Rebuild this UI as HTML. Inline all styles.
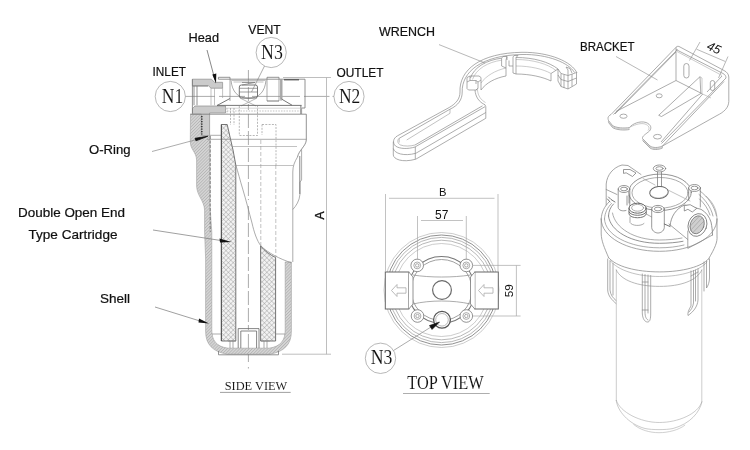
<!DOCTYPE html>
<html><head><meta charset="utf-8">
<style>
html,body{margin:0;padding:0;background:#fff;}
body{width:750px;height:450px;overflow:hidden;font-family:"Liberation Sans",sans-serif;}
svg{display:block;filter:grayscale(1)}
.l{font-family:"Liberation Sans",sans-serif;fill:#111;}
.s{font-family:"Liberation Serif",serif;fill:#111;}
</style></head><body>
<svg width="750" height="450" viewBox="0 0 750 450">
<defs>
<pattern id="hat" width="2.2" height="2.2" patternUnits="userSpaceOnUse" patternTransform="rotate(-45)"><rect width="2.2" height="2.2" fill="#d4d4d4"/><line x1="0" y1="0" x2="2.2" y2="0" stroke="#a2a2a2" stroke-width="0.9"/></pattern>
<pattern id="xhat" width="3.4" height="3.4" patternUnits="userSpaceOnUse" patternTransform="rotate(45)"><rect width="3.4" height="3.4" fill="#f2f2f2"/><path d="M0 0H3.4M0 0V3.4" stroke="#8c8c8c" stroke-width="0.7"/></pattern>
</defs>
<rect width="750" height="450" fill="#fff"/>
<g id="side" fill="none" stroke="#777" stroke-width="0.8" stroke-linecap="butt">
<!-- centerlines -->
<path d="M248.4 70V110M248.4 114V200M248.4 206V330" stroke="#888" stroke-width="0.7" stroke-dasharray="14 3"/><path d="M248.4 334V362M248.4 367V368.5" stroke="#888" stroke-width="0.7"/>
<path d="M185 96.4H215M219 96.4H245M252 96.4H300M304 96.4H329.5M332.5 96.4H334" stroke="#888" stroke-width="0.7"/>
<!-- label circles -->
<circle cx="170.3" cy="96.5" r="15.1" stroke="#999" stroke-width="0.7" fill="#fff"/>
<circle cx="349" cy="96.5" r="15.1" stroke="#999" stroke-width="0.7" fill="#fff"/>
<circle cx="271.2" cy="52.5" r="15.1" stroke="#999" stroke-width="0.7" fill="#fff"/>
<!-- N3 leader -->
<path d="M264.5 66L251.5 92" stroke="#888" stroke-width="0.7"/>
<!-- dimension A -->
<path d="M283 77.5H331M282 354.2H331M326.5 77.5V354.2" stroke="#adadad" stroke-width="0.8"/>
<!-- HEAD gray section top -->
<path d="M192.4 79.2H211.5L214.5 82.3H222.6V88.2H211L208.5 85.8H192.4Z" fill="#cbcbcb" stroke="#8c8c8c" stroke-width="0.7"/>
<!-- HEAD gray lower section -->
<path d="M192.5 108.5L195 106H225.5V113H209.6V135.5H201.2V114.3H192.5Z" fill="#cbcbcb" stroke="#8c8c8c" stroke-width="0.7"/>
<!-- inlet port lines -->
<path d="M192.4 79.2V113.5M194 86V105.3M197 86V105.3M192.4 86H208" stroke="#777"/>
<path d="M211 88.2V105.3M214.5 88.2V105.3M222.6 88.2V98" stroke="#999" stroke-width="0.6"/>
<!-- shell hatched left (thread + wall) -->
<path d="M190.5 114.3H201.2V135.5H210V206L211.8 232V330
C211.8 340 216 346.5 228 348.2H269C281 346.5 285.2 340 285.2 330V262H291.4V331C291.4 345 284 351.5 270 354.2H227C213 351.5 205.6 345 205.6 331V258L204.6 232V210
C204 200 197 196 196.6 186V160C196.4 152 190.5 150 190.3 142Z" fill="url(#hat)" stroke="#a0a0a0" stroke-width="0.6"/>
<!-- feet -->
<path d="M218.5 351V354.8H278.5V351" stroke="#777"/>
<!-- thread dots -->
<path d="M201.8 116V134.5" stroke="#333" stroke-width="1.5" stroke-dasharray="1.2 1.3"/>
<!-- cartridge left -->
<path d="M221.4 124.5H227.2L233 150L235.8 165V341H221.4Z" fill="url(#xhat)" stroke="#666" stroke-width="0.9"/>
<!-- cartridge right (below break) -->
<path d="M260.6 246C265 251 270 255 275.6 257.5V341H260.6Z" fill="url(#xhat)" stroke="#666" stroke-width="0.9"/>
<!-- bottom center tube -->
<path d="M238.2 348V328.6H259V348M240.8 348V331H256.6V348" stroke="#666"/>
<path d="M212 334H221.4M275.6 334H285M230 341V348M233 341V348M264 341V348M267 341V348M228 341H236M261 341H270" stroke="#888" stroke-width="0.7"/>
<!-- break line -->
<path d="M235.8 165C238 172 240 180 243 190C246 200 249 212 252 223C254 232 257 241 261 246C268 253 280 259 291.4 262.8" stroke="#888" stroke-width="0.7"/>
<!-- head outline right/external -->
<path d="M218.4 79.2V77.3H230V79.2M267 79.2V77.3H279V79.2M218.4 79.2H305V108H301.6V114" stroke="#777"/>
<path d="M230 79.2V101M267 79.2V101M279 79.2V101M281 79.2V101" stroke="#888" stroke-width="0.7"/>
<path d="M281.3 80V99.5" stroke="#a8a8a8" stroke-width="2.4"/><path d="M284 79.8H299" stroke="#444" stroke-width="1.1"/><path d="M300.8 105.5V114" stroke="#aaa" stroke-width="1.6"/>
<!-- dome -->
<path d="M231 80C232 92 238 98 248.4 98.5C259 98 265 92 266 80" stroke="#888" stroke-width="0.7"/>
<path d="M233.5 82H263.5M232 80.5H265" stroke="#999" stroke-width="0.6"/>
<!-- vent plug -->
<rect x="239.3" y="85" width="18.2" height="13" rx="2" stroke="#666" stroke-width="0.9"/>
<path d="M239.3 88.3H257.5M239.3 92H257.5M242 85L255 82.5M242 82.5H255" stroke="#777" stroke-width="0.7"/>
<path d="M240 98L256 106M257 98L241 106" stroke="#888" stroke-width="0.6"/>
<!-- flange lines -->
<path d="M217 105.4H301.6M217 105.5L230 98.5M281.5 99L292 105.2M267 101H279" stroke="#666" stroke-width="0.9"/>
<path d="M225 108.2H301.6" stroke="#bbb" stroke-width="0.6"/>
<path d="M190.3 114.2H306.3V140C306 146 299 150 297.5 157" stroke="#777"/>
<path d="M210 135.3H221.4M207 139.3H306.3" stroke="#888" stroke-width="0.7"/>
<!-- right outer clear shell -->
<path d="M297.5 157C294.5 162 292.8 166 292.8 172V262" stroke="#888" stroke-width="0.7"/>
<path d="M301.6 149.5V180L300 182V194C299.5 201 296 206 292.8 209.5" stroke="#8a8a8a" stroke-width="0.7"/>
<path d="M299.8 156V194" stroke="#777" stroke-width="0.9"/>
<path d="M235.8 165.5H293.2M231.5 146.5H297" stroke="#999" stroke-width="0.6"/><path d="M221.4 124.5V341" stroke="#555" stroke-width="1.1"/><path d="M210.2 136V232" stroke="#666" stroke-width="0.8" stroke-dasharray="3 1.5"/>
<!-- dashed internals -->
<path d="M227 108.2V114M227 111H301.6" stroke="#999" stroke-width="0.6" stroke-dasharray="1.5 1.2"/>
<path d="M239.3 106V135.5H257.5V106M230.5 108V125M234 108V125M262 124.5H276V165M262 124.5V135" stroke="#888" stroke-width="0.6" stroke-dasharray="2 1.3"/>
<path d="M260.8 140V246M275.8 165V257" stroke="#999" stroke-width="0.6" stroke-dasharray="4 2"/>
<!-- arrows / leaders -->
<path d="M207 50L215 80" stroke="#555" stroke-width="0.7"/>
<path d="M216 83.5L212.3 74.5L216.3 73.5Z" fill="#111" stroke="none"/>
<path d="M152 151.5L196 139.7" stroke="#888" stroke-width="0.7"/>
<path d="M195 138.3L207.8 136.3L196 140.8Z" fill="#111" stroke="#111" stroke-width="0.8"/>
<path d="M153 230L224 241" stroke="#777" stroke-width="0.7"/>
<path d="M231.5 242L219.5 238.6L220 242.6Z" fill="#111" stroke="none"/>
<path d="M155 307L200 321" stroke="#777" stroke-width="0.7"/>
<path d="M209 323.5L199 318.5L198.5 322.5Z" fill="#111" stroke="none"/>
</g>
<g id="wrench" fill="none" stroke="#8a8a8a" stroke-width="0.7" stroke-linejoin="round">
<!-- leader -->
<path d="M439 44.6L485 63" stroke="#999" stroke-width="0.7"/>
<!-- ring outer arcs -->
<path d="M460 92C459 70 480 53 522 52.3C550 52 572 62 577 73"/>
<path d="M462.2 92C461.5 72 481.5 55.2 522 54.5C548 54 569 63 574.5 72.5"/>
<!-- ring inner top-face edge -->
<path d="M470.5 78C474 67 487 60 501.6 58.2M516 57.5C534 57.5 549 62 558 69"/>
<path d="M472.5 79.5C476 69 488 62 501.6 60.2M516 59.5C533 59.5 548 64 556 70.5" stroke="#aaa" stroke-width="0.6"/>
<!-- inner wall mid & bottom -->
<path d="M481 83C486 76 495 70.5 506 68M516 66C530 66 543 69 551 73.5" stroke="#aaa" stroke-width="0.6"/>
<path d="M481 90C486 83 495 78 506 76M516 74C530 74 543 77 551 81"/>
<!-- notch lug 2 -->
<path d="M501.6 58.2V66L506 68V76M506 60V68M501.6 58.2L503 56.5H507L506 60M513 57L514 55.5H518L516 57.5V66M513 57V73L516 74M516 66V74M507 56.5V60M509 60.5V66M509 66H513" />
<!-- lug 1 -->
<path d="M467 82V77.5L470 76H479L481 77.5V90M467 82L470 80.5H476L478 82V88.5L476 90H468.5L467 88.5V82M478 82L481 80M476 90L478 88.5M470 76V80.5M476 80.5V84"/>
<!-- end block -->
<path d="M558 69V81L561 86.5L568 89L576.5 84V72.5M558 69L561 73.5L568 75.5L576.5 72.5M561 73.5V86.5M568 75.5V89M558 75L561 79.5L568 81.5L576.5 78M564 74.5V88M572 74V86.5M551 73.5V81M551 73.5L558 69M566 67L568 70V75.5M566 67L570 68.5L572 73"/>
<!-- neck + handle -->
<path d="M460 92C460 99 456 103.5 449.2 107.5L397.5 135.8"/>
<path d="M462.2 92C462.2 100 458 105.5 450 109.2L399.2 138.3"/>
<path d="M450 109.2V113.3L406.7 140" stroke="#999" stroke-width="0.6"/>
<path d="M475 90C475.5 97 479 102 485 104.8L485.8 106.7V118.3L415.8 159.2"/>
<path d="M477.5 90C478 96 481 100 485.5 102.5" stroke="#aaa" stroke-width="0.6"/>
<path d="M482.5 105.8L415 145M485 106.7L415 147M485.8 112.5L415.8 153.3"/>
<!-- handle end -->
<path d="M397.5 135.8C393 138.3 392.3 143 395.5 146C399.5 149 408 149.2 415 147"/>
<path d="M399.2 138.3C397 140 397.3 143.5 400.5 145C404.5 146.5 410 146.3 415 145" stroke="#999" stroke-width="0.6"/>
<path d="M399.2 138.3V142.5" stroke="#999" stroke-width="0.6"/>
<path d="M393.3 141.7V155C393.5 159 402 163 415.8 159.2M393.3 148.5C394.5 153.5 404 156.5 415.8 153.3M415.3 147V159.2"/>
</g>
<g id="bracket" fill="none" stroke="#8a8a8a" stroke-width="0.7" stroke-linejoin="round">
<!-- leader -->
<path d="M616 56.5L657.5 80" stroke="#999" stroke-width="0.7"/>
<!-- dim 45 -->
<path d="M700 42L689.5 60.5M728 56.5L718.5 78M696.5 49.2L725.3 61.5" stroke="#999" stroke-width="0.7"/>
<!-- back plate top edge -->
<path d="M676 47.3C677 46 678.5 46 680 47L724 70.5C727 72 728.5 74 728.8 77"/>
<path d="M676 49.5L723 73.5C725 74.5 726 76 726 78" />
<path d="M677 51.5L722 75.5" stroke="#aaa" stroke-width="0.6"/>
<!-- back plate left edge, bottom edge -->
<path d="M676 47.3V80.5L702.7 94" />
<!-- left wall top edge -->
<path d="M676 47.3L611 114.5M677.5 49.5L613.5 114.5M676 52L615 114" />
<!-- base left edge (inside) -->
<path d="M676 80.5L616 111.5" />
<!-- front-left foot & notch & front-right foot -->
<path d="M611 114.5C608 116 607.5 118 608.5 120.5L612.5 125.5C616 128 624 128.5 629.5 127.5C632 124 640 120.5 646 122.5C651 124.5 652 128 649.5 131C646 134 642 136 642.5 138.5L650 146C653 148 658 148 662.5 146"/>
<path d="M608.5 122.5L612.5 127.5C616 130 624 130.5 629.5 129.5M642.5 140.5L650 148C653 150 658 150 662.5 148" stroke="#8a8a8a" stroke-width="0.7"/>
<path d="M608.3 121.5L612.5 126.5C616 129 624 129.5 629.5 128.5M642.3 139.5L650 147C653 149 658 149 662.5 147M608.5 120.5V122.5M662.5 146V148" stroke="#aaa" stroke-width="0.6"/>
<path d="M629.5 127.5C633 125.5 640 122.5 645 124C649 125.5 650 128 648 130.5" stroke="#aaa" stroke-width="0.6"/>
<!-- right wall -->
<path d="M726 78L661.5 143.5M728.8 77V101.5C728.5 108 724 112 717 115.5L662.5 146M724 81.5L662.5 146"/>
<path d="M722 76L707 92M702.7 94L661 142" />
<!-- floor right edge -->
<path d="M702.7 94L711 98" stroke="#aaa" stroke-width="0.6"/>
<!-- gusset -->
<path d="M658.7 115.3L700 76.7L700.8 93.5L661.5 116.5Z"/>
<path d="M700 76.7L702 78V93" stroke="#aaa" stroke-width="0.6"/>
<!-- slots -->
<rect x="683.8" y="63.5" width="5.2" height="14.5" rx="2.6" />
<rect x="710.3" y="80.5" width="4.4" height="10" rx="2.2" />
<!-- holes -->
<ellipse cx="623.5" cy="116.2" rx="3.6" ry="2.1"/>
<ellipse cx="659.2" cy="95.8" rx="3" ry="2"/>
<ellipse cx="657.5" cy="136.7" rx="4" ry="2.3"/>
</g>
<g id="top" fill="none" stroke="#777" stroke-width="0.8">
<!-- outer circles -->
<circle cx="441.5" cy="290" r="57.5" stroke="#aaa" stroke-width="0.6"/>
<circle cx="441.5" cy="290" r="55" stroke="#858585" stroke-width="0.9"/>
<circle cx="441.5" cy="290" r="52.6" stroke="#999" stroke-width="0.7"/>
<circle cx="441.5" cy="290" r="49.8" stroke="#999" stroke-width="0.7"/>
<circle cx="441.5" cy="290" r="46.5" stroke="#aaa" stroke-width="0.6"/>
<!-- inner ring -->
<circle cx="441.5" cy="290" r="33.5" stroke="#777" stroke-width="1.1"/>
<circle cx="441.5" cy="290" r="30.5" stroke="#888" stroke-width="0.8"/>
<!-- ports -->
<rect x="385.3" y="272" width="23.5" height="37" fill="#fff" stroke="#666" stroke-width="1"/>
<rect x="474.8" y="272" width="23.5" height="37" fill="#fff" stroke="#666" stroke-width="1"/>
<path d="M408.8 272L413 277V304L408.8 309M474.8 272L470.5 277V304L474.8 309" fill="#fff" stroke="#777" stroke-width="0.8"/>
<path d="M413 275C430 277.7 453 277.7 470.5 275M413 304C430 300 453 300 470.5 304" stroke="#888" stroke-width="0.7"/>
<!-- arrows -->
<path d="M391.5 290.5L397 284.5V287.8H406V293.2H397V296.5Z" stroke="#aaa" stroke-width="0.8" fill="#fff"/>
<path d="M478.5 290.5L484 284.5V287.8H493V293.2H484V296.5Z" stroke="#aaa" stroke-width="0.8" fill="#fff"/>
<!-- bolt bosses -->
<g stroke="#777" stroke-width="0.8" fill="#fff">
<circle cx="417.2" cy="265.4" r="6.3"/><circle cx="466.3" cy="265.4" r="6.3"/><circle cx="417.5" cy="316" r="6.3"/><circle cx="466.3" cy="316" r="6.3"/>
</g>
<g stroke="#888" stroke-width="0.7">
<circle cx="417.2" cy="265.4" r="3.4"/><circle cx="466.3" cy="265.4" r="3.4"/><circle cx="417.5" cy="316" r="3.4"/><circle cx="466.3" cy="316" r="3.4"/>
<circle cx="417.2" cy="265.4" r="1.7"/><circle cx="466.3" cy="265.4" r="1.7"/><circle cx="417.5" cy="316" r="1.7"/><circle cx="466.3" cy="316" r="1.7"/>
</g>
<!-- center circle -->
<circle cx="442" cy="290" r="9.4" stroke="#6a6a6a" stroke-width="1.2" fill="#fff"/>
<!-- N3 vent -->
<circle cx="442" cy="319.8" r="8.4" stroke="#555" stroke-width="1.3" fill="#fff"/>
<circle cx="442" cy="319.8" r="6.3" stroke="#999" stroke-width="0.7"/>
<!-- N3 label -->
<circle cx="380.5" cy="358.3" r="15.2" stroke="#999" stroke-width="0.7" fill="#fff"/>
<path d="M393.5 350.5L431 327" stroke="#888" stroke-width="0.7"/>
<path d="M439.5 322L429.5 325.5L432 329.5Z" fill="#111" stroke="#111" stroke-width="0.6"/>
<!-- dims -->
<path d="M385.5 194V272M498 194V272M389 198.3H494.5" stroke="#a8a8a8" stroke-width="0.7"/>
<path d="M417.5 216V260M466.3 216V260M421 220.5H463" stroke="#a8a8a8" stroke-width="0.7"/>
<path d="M472.5 265.4H520.6M472.5 316H520.6M516.4 265.4V316" stroke="#a8a8a8" stroke-width="0.7"/>
</g>
<g id="iso" fill="none" stroke="#7d7d7d" stroke-width="0.75" stroke-linejoin="round" stroke-linecap="round">
<!-- sump body -->
<path d="M616.3 270V400.4M701.8 270V402" stroke="#aaa" stroke-width="0.6"/>
<path d="M616.3 400.4C620 412 640 422.5 659.2 422.5C678 422.5 698 414 701.8 402" stroke="#aaa" stroke-width="0.6"/>
<path d="M616.3 400.4C617 410 628 424 645 428.5C652 430 666 430 673 428.5C690 424 700 412 701.8 402" stroke="#aaa" stroke-width="0.6"/>
<path d="M633.6 424.4C640 430 650 432.7 659 432.7C668 432.7 679 430 684.8 425.2" stroke="#b0b0b0" stroke-width="0.6"/>
<!-- head outer rim: lower half + side bits -->
<path d="M601.2 219C601.2 237 627 251.3 659.5 251.3C692 251.3 717 237 717 219" stroke="#888"/>
<path d="M601.2 219C601.5 212 604.5 206.5 609 202" stroke="#888"/>
<path d="M604.5 219C605 235 629 247.8 659.5 247.8C668 247.8 677 246.8 684 245" stroke="#8a8a8a" stroke-width="0.7"/>
<path d="M604.5 219C604.8 212.5 607.5 207.5 611.5 203.5" stroke="#8a8a8a" stroke-width="0.7"/>
<path d="M608.5 216C610 231 631 243.3 659.5 243.3C668 243.3 677 242.5 683 241.3" stroke="#777" stroke-width="0.8"/>
<path d="M608.5 216C608.7 211 610.5 207 613.5 204" stroke="#777" stroke-width="0.8"/>
<path d="M612.5 213C615 228 634 240 659.5 240C668 240 676 239.2 682 238" stroke="#8a8a8a" stroke-width="0.7"/>
<!-- right rim arcs -->
<path d="M700 191C708 197 714.5 206 716.5 216M699 194.5C705 199.5 711 207 713 216M699.5 199C704 203 708 208.5 710 215" stroke="#888" stroke-width="0.7"/>
<path d="M717 219C717 211 714 203 706 196" stroke="#999" stroke-width="0.6"/>
<!-- head side + skirt -->
<path d="M601.2 219V234C601.5 241 604 247 608.7 257.8M717 219V236C717.6 242 715 248 708.5 259" stroke="#888"/>
<path d="M608.7 257.8C616 266.5 636 271.9 659.5 271.9C683 271.9 702 266.5 708.5 259" stroke="#888"/>
<path d="M610 260.5C618 270.5 637 276.5 659.5 276.5C682 276.5 700 270.5 707 262" stroke="#999" stroke-width="0.6"/>
<!-- collar ellipse -->
<path d="M616.3 270C621 280.5 638 286.4 659.5 286.4C681 286.4 697 280.5 701.8 270" stroke="#999" stroke-width="0.7"/>
<!-- ribs -->
<g stroke="#888" stroke-width="0.7">
<path d="M607.7 259V290C608 296 612 300 616 303.5M610 261V290C610.5 295 613 298 616 300.5M613 263.5V295"/>
<path d="M642.3 274V313C642.5 319 645 322 647.5 322C650 322 650.7 319 650.7 313V275.5M645 274.5V312C645 317 646.5 319.5 648 320M648 275V313M642.3 282H648M642.3 310H648"/>
<path d="M698 268.7V300C697.5 307 693 312 688 315.5C687.5 313 688.5 310 691 306V271M693.5 270.5V303C693 307 691 310 689 312M695.5 270V301M691 276L698 272"/>
<path d="M704 262V291M706.5 261V288C708 286 709.5 282 709.5 278V259"/>
</g>
<!-- central ring -->
<ellipse cx="660" cy="192.3" rx="31.3" ry="18.2" stroke="#777" stroke-width="0.8"/>
<ellipse cx="660" cy="192.8" rx="28" ry="15.3" stroke="#888" stroke-width="0.7"/>
<path d="M643 178.5L655 185M668 190L690 201" stroke="#999" stroke-width="0.6"/>
<!-- inlet port (back-left) -->
<path d="M606.2 205V184C607 175 613 167.5 622 165L628 165.5L641 174.5M606.2 189.5L617 194.5" stroke="#888"/>
<path d="M623.5 173V169.5L630 169.5L636 173L632.5 176.5L626.5 173Z" stroke="#777"/>
<path d="M608.5 197L611 199.5L615 202M607.5 199L610 202" stroke="#666" stroke-width="0.9"/>
<!-- bosses -->
<g stroke="#777" stroke-width="0.75">
<ellipse cx="659.5" cy="168.5" rx="6.2" ry="3.5"/><ellipse cx="659.5" cy="168.5" rx="3.6" ry="1.8"/>
<path d="M657.5 172V186.5M661.5 172V186.5"/>
<ellipse cx="624" cy="189" rx="5.8" ry="3.5" fill="#fff"/><ellipse cx="624" cy="189" rx="3.4" ry="1.8"/>
<path d="M618.2 189V207.5C618.5 210.5 623 211.5 626 210.5M629.8 189V207"/>
<ellipse cx="694.5" cy="188" rx="6" ry="3.5" fill="#fff"/><ellipse cx="694.5" cy="188" rx="3.5" ry="1.8"/>
<path d="M688.7 188V200M700.3 188V207"/>
<ellipse cx="658" cy="209" rx="6.3" ry="3.6" fill="#fff"/><ellipse cx="658" cy="209" rx="3.6" ry="1.9"/>
<path d="M651.7 209V227.5C652 231.5 656 233 658 233C660 233 664 231.5 664.3 227.5V209"/>
</g>
<!-- center hole -->
<ellipse cx="659" cy="192.5" rx="9.3" ry="6" stroke="#666" stroke-width="1" transform="rotate(-6 659 192.5)"/>
<path d="M651.5 195.5C655 199.5 664 199 667.5 193.5" stroke="#999" stroke-width="0.6"/>
<!-- vent plug -->
<ellipse cx="637.6" cy="208.2" rx="8.6" ry="5" stroke="#666" stroke-width="1" fill="#fff"/>
<ellipse cx="637.6" cy="207.8" rx="6" ry="3.4" stroke="#888" stroke-width="0.7"/>
<path d="M629 208.2V214C630 219 645 219 646.2 214V208.2M629 212C631 216.5 644 216.5 646.2 212" stroke="#666" stroke-width="0.9"/>
<path d="M630 217V222.5C632 226 641 226.5 644 223.5M646.2 214L651.7 217" stroke="#888" stroke-width="0.7"/>
<path d="M627 196V205M629 195V203" stroke="#777"/>
<!-- outlet port (front-right) -->
<path d="M669 224L687.8 239.5M687.8 231V248.4L712.5 235" stroke="#888"/>
<path d="M670 226C671 216 676 209 684.3 205L701 209.3C706 212 709.5 217 711 222C712 227 712.5 231 712.5 235" stroke="#777"/>
<ellipse cx="697.5" cy="225" rx="9.2" ry="11.6" transform="rotate(20 697.5 225)" stroke="#777" stroke-width="0.8"/>
<ellipse cx="697.2" cy="224.8" rx="6.8" ry="9.2" transform="rotate(20 697.2 224.8)" fill="#cfcfcf" stroke="#777" stroke-width="0.8"/>
<path d="M690 231L702 218M692 233.5L704 221M689.5 227L699 216.5" stroke="#999" stroke-width="0.6"/>
<path d="M684.3 205.8V211L687.9 209.3L692.3 212L696.8 208.4L690.5 204.9Z" stroke="#777" fill="#fff"/>
<path d="M664.3 224L670 226.5" stroke="#666" stroke-width="0.9"/>
</g>
<g id="labels" stroke="#111" stroke-width="0.2">
<text class="l" x="188.5" y="41.6" font-size="12.4" textLength="30.5" lengthAdjust="spacingAndGlyphs">Head</text>
<text class="l" x="248.3" y="33.6" font-size="12.4" textLength="32.5" lengthAdjust="spacingAndGlyphs">VENT</text>
<text class="l" x="152.5" y="75.6" font-size="12.4" textLength="33.5" lengthAdjust="spacingAndGlyphs">INLET</text>
<text class="l" x="336.5" y="76.8" font-size="12.4" textLength="47" lengthAdjust="spacingAndGlyphs">OUTLET</text>
<text class="l" x="89" y="153.6" font-size="12.4" textLength="41.5" lengthAdjust="spacingAndGlyphs">O-Ring</text>
<text class="l" x="18" y="216.6" font-size="12.4" textLength="107" lengthAdjust="spacingAndGlyphs">Double Open End</text>
<text class="l" x="28.5" y="238.9" font-size="12.4" textLength="89" lengthAdjust="spacingAndGlyphs">Type Cartridge</text>
<text class="l" x="100" y="302.5" font-size="12.4" textLength="30" lengthAdjust="spacingAndGlyphs">Shell</text>
<text class="l" x="379" y="36" font-size="12.4" textLength="56" lengthAdjust="spacingAndGlyphs">WRENCH</text>
<text class="l" x="580" y="51" font-size="12.4" textLength="54.5" lengthAdjust="spacingAndGlyphs">BRACKET</text>
</g>
<g id="texts">
<g stroke="#fff" stroke-width="0.08">
<text class="s" x="161.8" y="102.8" font-size="20.5" textLength="21.4" lengthAdjust="spacingAndGlyphs">N1</text>
<text class="s" x="339" y="102.8" font-size="20.5" textLength="21.3" lengthAdjust="spacingAndGlyphs">N2</text>
<text class="s" x="261" y="58.8" font-size="20.5" textLength="21.8" lengthAdjust="spacingAndGlyphs">N3</text>
<text class="s" x="370.8" y="363.9" font-size="20.5" textLength="21.6" lengthAdjust="spacingAndGlyphs">N3</text>
<text class="s" x="224.7" y="390" font-size="13.4" textLength="62.6" lengthAdjust="spacingAndGlyphs">SIDE VIEW</text>
<text class="s" x="407.3" y="389" font-size="18.2" textLength="76.4" lengthAdjust="spacingAndGlyphs">TOP VIEW</text>
</g>
<path d="M220 392.4H290.7" stroke="#888" stroke-width="0.8"/>
<path d="M403 393.5H489.7" stroke="#999" stroke-width="0.8"/>
<text class="l" x="439" y="195.6" font-size="11.2">B</text>
<text class="l" x="435" y="218.5" font-size="12">57</text>
<text class="l" transform="translate(513.3,297.3) rotate(-90)" font-size="11.6">59</text>
<text class="l" transform="translate(324.4,219.6) rotate(-90)" font-size="12" stroke="#111" stroke-width="0.3">A</text>
<text class="l" transform="translate(706,49) rotate(24)" font-size="12.5" font-style="italic">45</text>
</g>
</svg>
</body></html>
